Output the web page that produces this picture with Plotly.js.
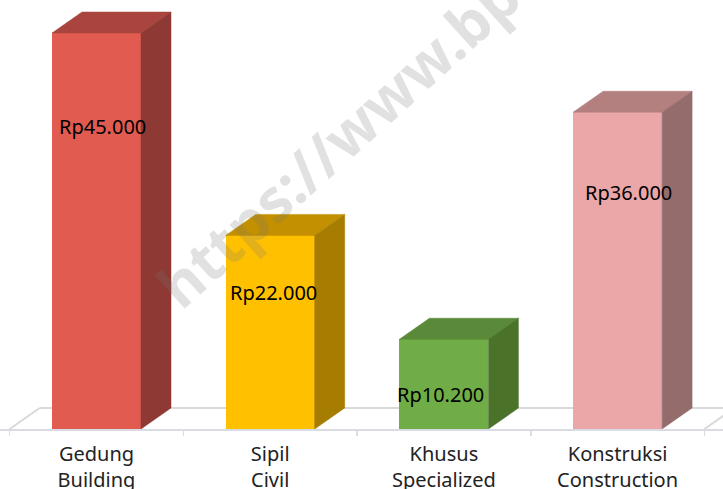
<!DOCTYPE html>
<html>
<head>
<meta charset="utf-8">
<script src="https://cdn.plot.ly/plotly-3.0.1.min.js"></script>
<style>html,body{margin:0;padding:0;background:#fff}#chart{width:723px;height:489px}</style>
</head>
<body>
<div id="chart"></div>
<script>
// Data
const categories = ["Gedung<br>Building", "Sipil<br>Civil", "Khusus<br>Specialized", "Konstruksi<br>Construction"];
const values = [45000, 22000, 10200, 36000];
const valueLabels = ["Rp45.000", "Rp22.000", "Rp10.200", "Rp36.000"];
const watermark = "https://www.bp";

// Style
const frontColors = ["#E25B50", "#FFC000", "#70AD47", "#EBA7A8"];
const topColors = ["#A9443E", "#C29000", "#5A8A39", "#B37F7F"];
const sideColors = ["#8E3934", "#A67D00", "#4A7229", "#946C6C"];
const labelShiftX = [6, 3.5, -3, 11];
const labelShiftY = [105, 40, -10, 78];
const W = 723, AXIS_PX = 429, STEP_PX = 173.7, FIRST_PX = 96.5;
const PX_PER_UNIT = 0.0088, BAR_W = 89 / STEP_PX;
const DX = 30 / STEP_PX, DY = 21 / PX_PER_UNIT;
const xr = [-FIRST_PX / STEP_PX, (W - FIRST_PX) / STEP_PX];
const yr = [0, AXIS_PX / PX_PER_UNIT];
const positions = categories.map((_, i) => i);
const hw = BAR_W / 2;

const traces = [{
  type: "bar", x: positions, y: values, width: BAR_W,
  marker: {color: frontColors}, hoverinfo: "skip", showlegend: false
}];
values.forEach((v, i) => {
  traces.push({
    type: "scatter", mode: "lines", fill: "toself", showlegend: false, hoverinfo: "skip",
    x: [i - hw, i + hw, i + hw + DX, i - hw + DX, i - hw],
    y: [v, v, v + DY, v + DY, v],
    fillcolor: topColors[i], line: {width: 0.5, color: topColors[i]}
  });
  traces.push({
    type: "scatter", mode: "lines", fill: "toself", showlegend: false, hoverinfo: "skip",
    x: [i + hw, i + hw + DX, i + hw + DX, i + hw, i + hw],
    y: [0, DY, v + DY, v, 0],
    fillcolor: sideColors[i], line: {width: 0.5, color: sideColors[i]}
  });
});

const floor = {color: "#D9D9D9", width: 2};
const L = -0.5, R = categories.length - 0.5;
const shapes = [
  {type: "line", layer: "below", xref: "x", yref: "y", x0: L, y0: 0, x1: L + DX, y1: DY, line: floor},
  {type: "line", layer: "below", xref: "x", yref: "y", x0: L + DX, y0: DY, x1: R + DX, y1: DY, line: floor},
  {type: "line", layer: "below", xref: "x", yref: "y", x0: R, y0: 0, x1: R + DX, y1: DY, line: floor}
];

const annotations = values.map((v, i) => ({
  x: i, y: v / 2, xref: "x", yref: "y", text: valueLabels[i], showarrow: false,
  xshift: labelShiftX[i], yshift: labelShiftY[i],
  font: {family: "Noto Sans, Open Sans, sans-serif", size: 20, color: "#000"}
}));
annotations.push({
  xref: "paper", yref: "paper", x: 0.467, y: 0.673, xanchor: "center", yanchor: "middle",
  text: "<b>" + watermark + "</b>", showarrow: false,
  textangle: -42, font: {family: "Noto Sans, Open Sans, sans-serif", size: 59, color: "rgba(120,120,120,0.22)"}
});

Plotly.newPlot("chart", traces, {
  width: W, height: 489,
  margin: {l: 0, r: 0, t: 0, b: 489 - AXIS_PX, pad: 0},
  paper_bgcolor: "#fff", plot_bgcolor: "#fff",
  showlegend: false, bargap: 0,
  xaxis: {
    type: "linear", range: xr, tickmode: "array", tickvals: positions, ticktext: categories,
    ticks: "outside", ticklen: 6, tickcolor: "rgba(0,0,0,0)",
    minor: {tickmode: "array", tickvals: [-0.5, 0.5, 1.5, 2.5, 3.5], ticks: "outside", ticklen: 5, tickwidth: 1.5, tickcolor: "#D9DDE3", showgrid: false},
    showline: true, linecolor: "#D9DDE3", linewidth: 2, showgrid: false, zeroline: false, fixedrange: true,
    tickfont: {family: "Noto Sans, Open Sans, sans-serif", size: 20, color: "#222"}
  },
  yaxis: {range: yr, visible: false, showgrid: false, zeroline: false, fixedrange: true},
  shapes, annotations
}, {displayModeBar: false, staticPlot: true});
</script>
</body>
</html>
